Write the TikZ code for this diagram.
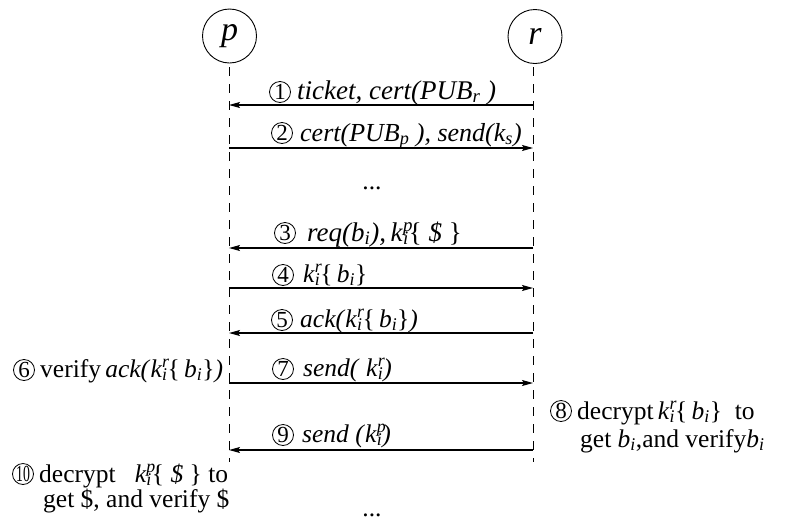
\documentclass[tikz,border=0pt]{standalone}
\usepackage{fontspec}
\setmainfont{Liberation Serif}
\usetikzlibrary{arrows.meta}
% k with a superscript and a subscript stacked
\newcommand\kk[2]{\textit{k}\rlap{\textsuperscript{\textit{#1}}}\textsubscript{\textit{#2}}}
\newcommand\sub[1]{\textsubscript{\textit{#1}}}
\begin{document}
\begin{tikzpicture}[x=1pt,y=-1pt,
  actor/.style={circle,draw,line width=0.9pt,minimum size=54pt,inner sep=0pt,
    font=\fontsize{34}{34}\selectfont\itshape},
  life/.style={line width=0.9pt,dash pattern=on 9pt off 8pt},
  msg/.style={line width=1.2pt,-{Stealth[length=11pt,width=6pt,inset=2pt]}},
  cnum/.style={circle,draw,line width=0.8pt,minimum size=21pt,inner sep=0pt,
    font=\fontsize{23}{23}\selectfont},
  lbl/.style={anchor=base west,inner sep=0pt,font=\fontsize{25.5}{24}\selectfont},
  big/.style={font=\fontsize{27}{24}\selectfont}]
\useasboundingbox (0,0) rectangle (785,520);

% participants
\node[actor] (p) at (229.5,36) {p};
\node[actor] (r) at (535,36.5) {r};

% lifelines
\coordinate (pt) at (229,67);
\coordinate (pb) at (229,462);
\coordinate (rt) at (533,67);
\coordinate (rb) at (533,462);
\draw[life] (pt) -- (pb);
\draw[life] (rt) -- (rb);

% message anchors on the lifelines
\foreach \n/\y in {1/105,2/148,3/248,4/288,5/333,7/383,9/450}{
  \coordinate (p\n) at (229,\y);
  \coordinate (r\n) at (533,\y);
}

% messages
\draw[msg] (r1) -- (p1);
\draw[msg] (p2) -- (r2);
\draw[msg] (r3) -- (p3);
\draw[msg] (p4) -- (r4);
\draw[msg] (r5) -- (p5);
\draw[msg] (p7) -- (r7);
\draw[msg] (r9) -- (p9);

% message labels
\node[cnum] (c1) at (280,92) {1};
\node[lbl,big] (t1) at (297,99) {\textit{ticket, cert(PUB\sub{r} )}};

\node[cnum] (c2) at (282,133) {2};
\node[lbl,font=\fontsize{26}{24}\selectfont] (t2) at (300,141) {\textit{cert(PUB\sub{p} ), send(k\sub{s})}};

\node[lbl,anchor=base] (d1) at (372,189) {...};

\node[cnum] (c3) at (285,233) {3};
\node[lbl,big] (t3) at (307,241) {\textit{req(b\sub{i}),}\,\kk{p}{i}\{ \textit{\$} \}};

\node[cnum] (c4) at (283,275) {4};
\node[lbl] (t4) at (303,282) {\kk{r}{i}\{\,\textit{b}\sub{i}\}};

\node[cnum] (c5) at (282,320) {5};
\node[lbl] (t5) at (300,327) {\textit{ack(}\kk{r}{i}\{\,\textit{b}\sub{i}\}\textit{)}};

\node[cnum] (c6) at (24,370) {6};
\node[lbl] (t6) at (40,377) {verify\,\textit{ack(}\kk{r}{i}\{\,\textit{b}\sub{i}\}\textit{)}};

\node[cnum] (c7) at (283,369) {7};
\node[lbl] (t7) at (303,376) {\textit{send( }\kk{r}{i}\textit{)}};

\node[cnum] (c8) at (561,411) {8};
\node[lbl] (t8a) at (577,419) {decrypt\,\kk{r}{i}\{\,\textit{b}\sub{i}\}~ to};
\node[lbl] (t8b) at (580,447) {get \textit{b}\sub{i},and verify\textit{b}\sub{i}};

\node[cnum] (c9) at (283,435) {9};
\node[lbl] (t9) at (302,442) {\textit{send (}\kk{p}{i}\textit{)}};

\node[cnum] (c10) at (23,474) {\scalebox{0.6}[1]{10}};
\node[lbl] (t10a) at (39,482) {decrypt~~ \kk{p}{i}\{ \textit{\$} \} to};
\node[lbl] (t10b) at (43,507) {get \$, and verify \$};

\node[lbl,anchor=base] (d2) at (372,516) {...};
\end{tikzpicture}
\end{document}
